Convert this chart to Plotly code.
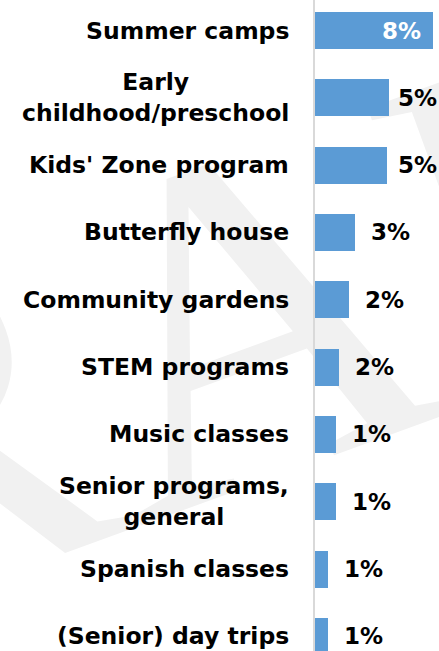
import plotly.graph_objects as go

categories = [
    "Summer camps",
    "Early<br>childhood/preschool",
    "Kids' Zone program",
    "Butterfly house",
    "Community gardens",
    "STEM programs",
    "Music classes",
    "Senior programs,<br>general",
    "Spanish classes",
    "(Senior) day trips",
]
values = [8.0, 5.0, 4.9, 2.7, 2.3, 1.6, 1.4, 1.4, 0.9, 0.9]
watermark = "DRAFT"

W, H = 439, 651
LEFT = 315
PLOT_W = W - LEFT
X_MAX = 8.41
BAR_COLOR = "#5b9bd5"
FONT = "DejaVu Sans"

idx = list(range(len(categories)))

fig = go.Figure()
fig.add_trace(go.Bar(
    x=values,
    y=idx,
    orientation="h",
    marker=dict(color=BAR_COLOR, line=dict(width=0)),
    width=0.55,
    hoverinfo="skip",
))

annotations = []
for i, (c, v) in enumerate(zip(categories, values)):
    annotations.append(dict(
        x=0, xref="paper", xanchor="right", xshift=-24,
        y=i, yref="y", yanchor="middle",
        text=c, align="center", showarrow=False,
        font=dict(family=FONT, size=23.5, color="#000000", weight="bold"),
    ))
    label = f"{v:.0f}%"
    px_end = v / X_MAX * PLOT_W
    if v >= 6:
        annotations.append(dict(
            x=v, xref="x", xanchor="right", xshift=-10,
            y=i, yref="y", yanchor="middle",
            text=label, showarrow=False,
            font=dict(family=FONT, size=23, color="#ffffff", weight="bold"),
        ))
    elif px_end + 17 + 42 > PLOT_W:
        annotations.append(dict(
            x=1, xref="paper", xanchor="right", xshift=0,
            y=i, yref="y", yanchor="middle",
            text=label, showarrow=False,
            font=dict(family=FONT, size=23, color="#000000", weight="bold"),
        ))
    else:
        annotations.append(dict(
            x=v, xref="x", xanchor="left", xshift=14,
            y=i, yref="y", yanchor="middle",
            text=label, showarrow=False,
            font=dict(family=FONT, size=23, color="#000000", weight="bold"),
        ))

# watermark centre in page pixels
wm_cx, wm_cy = 176, 285
def px_to_paper_x(px):
    return (px - LEFT) / PLOT_W
def px_to_paper_y(py):
    return (H - py) / H

fig.update_layout(
    width=W, height=H,
    margin=dict(l=LEFT, r=0, t=0, b=0, pad=0),
    paper_bgcolor="#ffffff",
    plot_bgcolor="rgba(0,0,0,0)",
    showlegend=False,
    bargap=0,
    xaxis=dict(range=[0, X_MAX], visible=False, fixedrange=True),
    yaxis=dict(
        range=[9.216, -0.453],
        showticklabels=False, showgrid=False, zeroline=False,
        showline=True, linecolor="#d9d9d9", linewidth=2,
        ticks="", fixedrange=True,
    ),
    annotations=annotations,
    shapes=[dict(
        type="rect", xref="paper", yref="paper",
        x0=px_to_paper_x(wm_cx - 100), x1=px_to_paper_x(wm_cx + 100),
        y0=px_to_paper_y(wm_cy + 100), y1=px_to_paper_y(wm_cy - 100),
        line=dict(width=0), fillcolor="rgba(0,0,0,0)",
        layer="below",
        label=dict(
            text=watermark, textangle=-20, textposition="middle center",
            font=dict(family="Liberation Serif, Times New Roman, serif",
                      size=480, color="#f1f1f1"),
        ),
    )],
)

fig.write_html(
    "out.html",
    config={"displayModeBar": False},
    post_script="document.body.style.margin='0px';document.body.style.overflow='hidden';",
)
